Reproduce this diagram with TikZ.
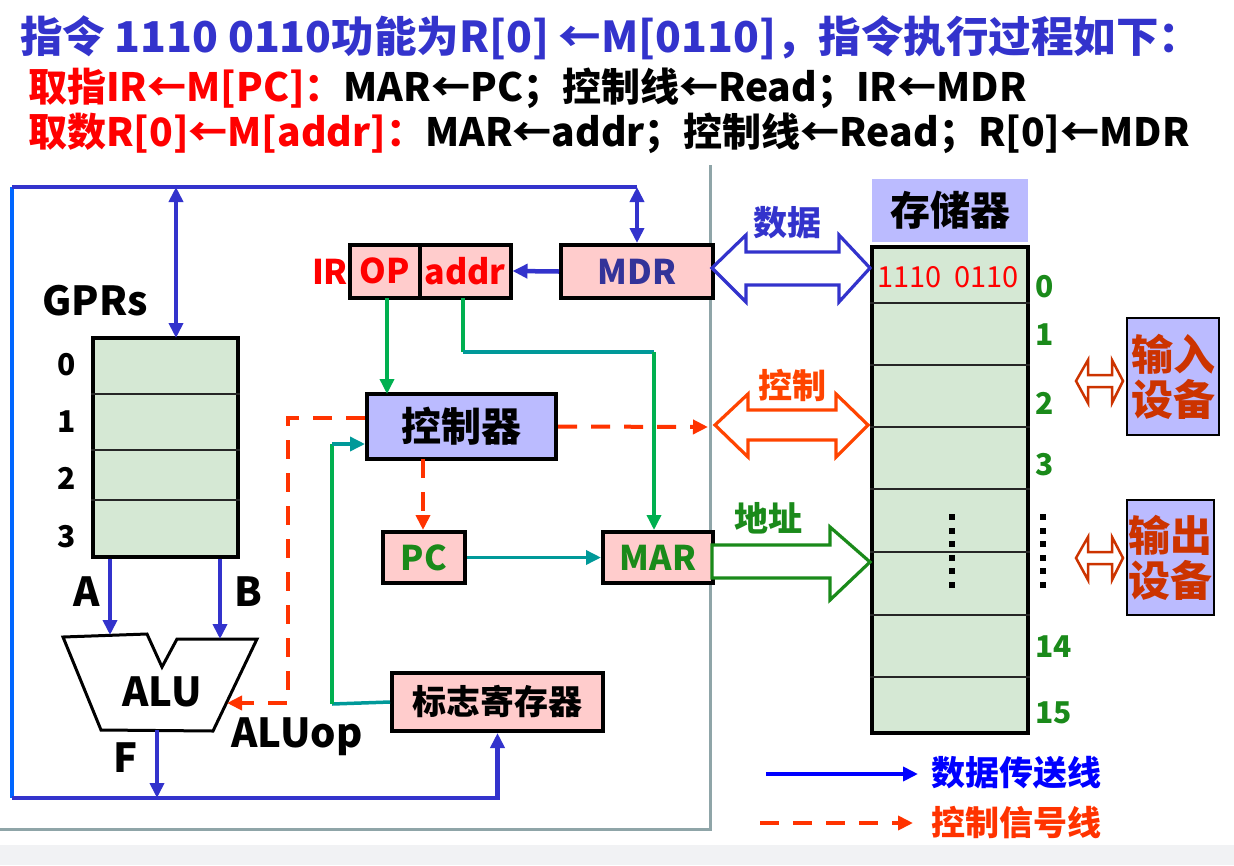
\documentclass[tikz,border=0pt]{standalone}
\usepackage{fontspec}
\setmainfont{Noto Sans CJK SC}
\definecolor{titleblue}{HTML}{3333CC}
\definecolor{hotred}{HTML}{FF0000}
\definecolor{busblue}{HTML}{3333CC}
\definecolor{leftblue}{HTML}{0066FF}
\definecolor{sigred}{HTML}{FF3300}
\definecolor{ctlgreen}{HTML}{00B050}
\definecolor{ctlteal}{HTML}{009999}
\definecolor{regpink}{HTML}{FFCCCC}
\definecolor{lavender}{HTML}{BBBBFF}
\definecolor{cellgreen}{HTML}{D5E8D4}
\definecolor{framegray}{HTML}{8FA5A8}
\definecolor{addrgreen}{HTML}{1A8A1A}
\definecolor{mdrblue}{HTML}{333399}
\definecolor{iored}{HTML}{CC3300}
\definecolor{ctlorange}{HTML}{FF4400}
\definecolor{legblue}{HTML}{0000FF}
\definecolor{footgray}{HTML}{F1F2F4}
\usetikzlibrary{arrows.meta}

\begin{document}
\begin{tikzpicture}[
  x=1pt,y=-1pt,
  line join=miter,
  box/.style={draw=black,line width=4pt,inner sep=0pt},
  pinkbox/.style={box,fill=regpink},
  lavbox/.style={box,fill=lavender},
  cellbox/.style={box,line width=4.5pt,fill=cellgreen},
  rowline/.style={draw=black!85,line width=2.2pt},
  bus/.style={draw=busblue,line width=4.5pt},
  busarrow/.style={bus,-{Triangle[length=15pt,width=14pt]}},
  busdouble/.style={bus,{Triangle[length=15pt,width=14pt]}-{Triangle[length=15pt,width=14pt]}},
  gline/.style={draw=ctlgreen,line width=3.5pt},
  tline/.style={draw=ctlteal,line width=3.5pt},
  sigline/.style={draw=sigred,line width=4pt,dash pattern=on 19pt off 14pt},
  tipend/.style={-{Triangle[length=15pt,width=14pt]}},
  hollow/.style={line width=3.2pt,fill=white},
  bigfont/.style={font=\fontsize{40}{44}\selectfont\bfseries},
  midfont/.style={font=\fontsize{34}{38}\selectfont\bfseries},
  smallfont/.style={font=\fontsize{30}{34}\selectfont\bfseries},
  titlefont/.style={font=\fontsize{42.5}{46}\selectfont\bfseries},
  linefont/.style={font=\fontsize{39}{42}\selectfont\bfseries},
  plain/.style={inner sep=0pt}
]
  \useasboundingbox (0,0) rectangle (1234,865);
  \fill[footgray] (0,845) rectangle (1234,865);

  % heading lines
  \node[plain,anchor=west,titlefont,text=titleblue] (title) at (20,38)
    {指令 1110 0110功能为R[0] ←M[0110]，指令执行过程如下：};
  \node[plain,anchor=west,linefont] (fetchins) at (28,88)
    {\textcolor{hotred}{取指IR←M[PC]：}MAR←PC；控制线←Read；IR←MDR};
  \node[plain,anchor=west,linefont] (fetchdata) at (28,133)
    {\textcolor{hotred}{取数R[0]←M[addr]：}MAR←addr；控制线←Read；R[0]←MDR};

  % CPU frame
  \draw[framegray,line width=3pt] (710,165) -- (710,829) -- (0,829);

  % registers
  \node[cellbox,minimum width=145,minimum height=219] (gprs) at (165.5,447.5) {};
  \foreach \yy in {394,450,500}
    \draw[rowline] (gprs.west |- 0,\yy) -- (gprs.east |- 0,\yy);
  \foreach \lab/\yy in {0/365,1/422,2/478,3/537}
    \node[plain,smallfont] (g\lab) at (67,\yy) {\lab};
  \node[plain,bigfont] (gprslabel) at (95,301) {GPRs};

  \node[pinkbox,minimum width=70,minimum height=53,text=hotred,midfont] (op) at (384.5,271) {OP};
  \node[pinkbox,minimum width=91,minimum height=53,text=hotred,midfont] (addr) at (465,271) {addr};
  \node[plain,midfont,text=hotred] (irlabel) at (330,272) {IR};
  \node[pinkbox,minimum width=152,minimum height=53,text=mdrblue,midfont] (mdr) at (637,271.5) {MDR};
  \node[lavbox,minimum width=189,minimum height=65,bigfont] (ctrl) at (461.5,426.5) {控制器};
  \node[pinkbox,minimum width=82,minimum height=51,text=addrgreen,midfont] (pc) at (424,557.5) {PC};
  \node[pinkbox,minimum width=110,minimum height=51,text=addrgreen,midfont] (mar) at (658,557.5) {MAR};
  \node[pinkbox,minimum width=211,minimum height=58,midfont] (flag) at (497.5,702) {标志寄存器};

  % ALU
  \draw[line width=3pt] (63,637) -- (147,634) -- (162,667) -- (177,639) -- (257,639)
    -- (213,731) -- (101,730) -- cycle;
  \node[plain,bigfont] (alu) at (162,692) {ALU};
  \node[plain,bigfont] (aluop) at (297,737) {ALUop};
  \node[plain,bigfont] (alabel) at (87,592) {A};
  \node[plain,bigfont] (blabel) at (248,592) {B};
  \node[plain,bigfont] (flabel) at (126,758) {F};

  \coordinate (topleft) at (12,187);
  \coordinate (botleft) at (12,798);
  \coordinate (aluA) at (110,635);
  \coordinate (aluB) at (220,639);
  \coordinate (aluF) at (157,730);
  \coordinate (aluop) at (227,703);

  % data buses
  \draw[leftblue,line width=4.5pt] (topleft) -- (botleft);
  \draw[bus] (topleft) -- (637,187);
  \draw[busdouble] (637,187) -- (mdr.north);
  \draw[busdouble] (176,187) -- (176,338);
  \draw[busarrow] (botleft) -- (flag.south |- botleft) -- (flag.south);
  \draw[busarrow] (aluF) -- (aluF |- botleft);
  \draw[busarrow] (aluA |- gprs.south) -- (aluA);
  \draw[busarrow] (aluB |- gprs.south) -- (aluB);
  \draw[busarrow] (mdr.west) -- (addr.east);

  % control paths
  \draw[gline,tipend] (387,298) -- (387,394);
  \coordinate (a1) at (463,352);
  \coordinate (a2) at (654,352);
  \draw[gline] (463,298) -- (a1);
  \draw[tline] (a1) -- (a2);
  \draw[gline,tipend] (a2) -- (a2 |- mar.north);
  \draw[tline,tipend] (pc.east) -- (mar.west);
  \draw[sigline,tipend] (ctrl.east) -- (708,427);
  \draw[sigline,tipend] (423,459) -- (pc.north -| 423,0);
  \draw[sigline,tipend] (ctrl.west |- 0,418) -- (288,418) -- (288,703) -- (aluop);
  \coordinate (f1) at (332,704);
  \coordinate (f2) at (332,444);
  \draw[tline] (flag.west) -- (f1);
  \draw[gline] (f1) -- (f2);
  \draw[tline,tipend] (f2) -- (ctrl.west |- f2);

  % memory
  \node[plain,fill=lavender,minimum width=156,minimum height=63,bigfont] (memhead) at (950,210.5) {存储器};
  \node[cellbox,minimum width=156,minimum height=486] (mem) at (950,490) {};
  \foreach \yy in {303,365,427,489,552,615,677}
    \draw[rowline] (mem.west |- 0,\yy) -- (mem.east |- 0,\yy);
  \node[plain,font=\fontsize{29}{30}\selectfont,text=hotred] (word0) at (948,277) {1110\ \ 0110};
  \foreach \lab/\yy in {0/287,1/335,2/403,3/465,14/647,15/713}
    \node[plain,anchor=west,smallfont,text=addrgreen] (m\lab) at (1035,\yy) {\lab};
  \foreach \k in {0,...,5} {
    \fill (949,514+13.5*\k) rectangle ++(6,6);
    \fill (1040,514+13.5*\k) rectangle ++(6,6);
  }

  % system buses
  \draw[hollow,draw=busblue] (712,268) -- (746,235) -- (746,252) -- (839,252) -- (839,235) -- (870,268)
    -- (839,302) -- (839,285) -- (746,285) -- (746,302) -- cycle;
  \node[plain,midfont,text=busblue] (datalabel) at (787,223) {数据};
  \draw[hollow,draw=ctlorange] (715,425) -- (748,394) -- (748,410) -- (836,410) -- (836,394) -- (868,425)
    -- (836,457) -- (836,440) -- (748,440) -- (748,457) -- cycle;
  \node[plain,midfont,text=ctlorange] (ctllabel) at (792,385) {控制};
  \draw[hollow,draw=addrgreen] (712,545) -- (830,545) -- (830,527) -- (870,562) -- (830,600)
    -- (830,578) -- (712,578) -- cycle;
  \node[plain,midfont,text=addrgreen] (addrlabel) at (768,518) {地址};

  % devices
  \node[lavbox,line width=2.5pt,minimum width=92,minimum height=117,text=iored,
    font=\fontsize{42}{45}\selectfont\bfseries,align=center] (indev) at (1173,376.5) {输入\\设备};
  \node[lavbox,line width=2.5pt,minimum width=87,minimum height=115,text=iored,
    font=\fontsize{42}{45}\selectfont\bfseries,align=center] (outdev) at (1170.5,557.5) {输出\\设备};
  \draw[hollow,draw=iored,line width=2.5pt] (1076,381) -- (1088,360) -- (1088,375) -- (1112,375) -- (1112,360)
    -- (1123,381) -- (1112,403) -- (1112,387) -- (1088,387) -- (1088,403) -- cycle;
  \draw[hollow,draw=iored,line width=2.5pt] (1076,558) -- (1088,537) -- (1088,552) -- (1112,552) -- (1112,537)
    -- (1123,558) -- (1112,580) -- (1112,564) -- (1088,564) -- (1088,580) -- cycle;

  % legend
  \node[plain,anchor=west,midfont,text=legblue] (legdata) at (931,773) {数据传送线};
  \node[plain,anchor=west,midfont,text=sigred] (legsig) at (931,823) {控制信号线};
  \coordinate (legdatastart) at (766,774);
  \coordinate (legsigstart) at (760,823);
  \draw[legblue,line width=4pt,tipend] (legdatastart) -- (918,774);
  \draw[sigline,tipend] (legsigstart) -- (913,823);
\end{tikzpicture}
\end{document}
